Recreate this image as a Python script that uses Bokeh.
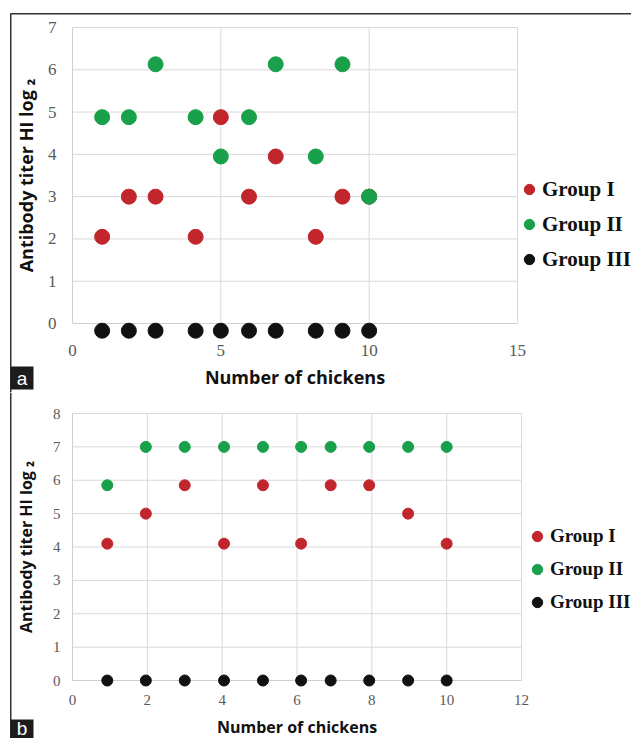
from bokeh.plotting import figure
from bokeh.models import Range1d, FixedTicker, Legend, LegendItem, Label, BoxAnnotation
from bokeh.layouts import column
from bokeh.embed import file_html
from bokeh.resources import INLINE

# ---- data: panel a (first sampling) ----
chickens_a = [1.0, 1.9, 2.8, 4.15, 5.0, 5.95, 6.85, 8.2, 9.1, 10.0]
group1_a = [2.05, 3.0, 3.0, 2.05, 4.88, 3.0, 3.95, 2.05, 3.0, 3.0]
group2_a = [4.88, 4.88, 6.13, 4.88, 3.95, 4.88, 6.13, 3.95, 6.13, 3.0]
group3_a = [-0.17, -0.17, -0.17, -0.17, -0.17, -0.17, -0.17, -0.17, -0.17, -0.17]
xticks_a = [0, 5, 10, 15]
yticks_a = [0, 1, 2, 3, 4, 5, 6, 7]

# ---- data: panel b (second sampling) ----
chickens_b = [0.93, 1.96, 3.0, 4.05, 5.09, 6.11, 6.9, 7.93, 8.97, 10.0]
group1_b = [4.1, 5.0, 5.85, 4.1, 5.85, 4.1, 5.85, 5.85, 5.0, 4.1]
group2_b = [5.85, 7.0, 7.0, 7.0, 7.0, 7.0, 7.0, 7.0, 7.0, 7.0]
group3_b = [0, 0, 0, 0, 0, 0, 0, 0, 0, 0]
xticks_b = [0, 2, 4, 6, 8, 10, 12]
yticks_b = [0, 1, 2, 3, 4, 5, 6, 7, 8]

group_names = ["Group I", "Group II", "Group III"]
colors = ["#c1262d", "#19a04b", "#111111"]

GRID = "#d9d9d9"
AXIS = "#cfcfcf"
FRAME = "#333333"
W = 631
LEFT = 72  # canvas x of the value-axis origin


def panel(height, frame_top, frame_right, unit_px, xs, series, xticks, yticks,
          dot, tick_size, title_size, x_standoff, x_title_standoff,
          y_standoff, y_title_standoff, legend_loc, glyph_h, legend_font):
    xmax, ymax = xticks[-1], yticks[-1]
    ux = (frame_right - LEFT) / xmax
    uy = unit_px
    # the plotting frame covers the whole canvas; axes sit at x=0 / y=0
    p = figure(width=W, height=height, output_backend="svg", toolbar_location=None,
               x_range=Range1d(-LEFT / ux, (W - LEFT) / ux),
               y_range=Range1d(ymax - (height - frame_top) / uy, ymax + frame_top / uy),
               min_border_left=0, min_border_right=0,
               min_border_top=0, min_border_bottom=0)
    p.outline_line_color = None
    p.background_fill_color = "white"
    p.border_fill_color = "white"
    p.xgrid.visible = False
    p.ygrid.visible = False

    # grid lines limited to the data area
    p.segment(x0=0, y0=yticks[1:], x1=xmax, y1=yticks[1:], line_color=GRID, line_width=1)
    p.segment(x0=xticks[1:], y0=0, x1=xticks[1:], y1=ymax, line_color=GRID, line_width=1)

    for ax, ticks in ((p.xaxis, xticks), (p.yaxis, yticks)):
        ax.ticker = FixedTicker(ticks=ticks)
        ax.fixed_location = 0
        ax.level = "underlay"
        ax.axis_line_color = AXIS
        ax.major_tick_line_color = None
        ax.minor_tick_line_color = None
        ax.major_tick_out = 0
        ax.major_tick_in = 0
        ax.major_label_text_font = "Liberation Serif"
        ax.major_label_text_color = "#595959"
        ax.major_label_text_font_size = f"{tick_size}px"
        ax.axis_label_text_font = "Open Sans"
        ax.axis_label_text_font_style = "bold"
        ax.axis_label_text_color = "#111111"
        ax.axis_label_text_font_size = f"{title_size}px"

    p.xaxis.bounds = (0, xmax)
    p.yaxis.bounds = (0, ymax)
    p.xaxis.major_label_standoff = x_standoff
    p.yaxis.major_label_standoff = y_standoff
    p.xaxis.axis_label_standoff = x_title_standoff
    p.yaxis.axis_label_standoff = y_title_standoff
    p.xaxis.axis_label = "Number of chickens"
    p.yaxis.axis_label = "Antibody titer HI log \u2082"

    items = []
    for name, ys, c in zip(group_names, series, colors):
        r = p.scatter(xs, ys, size=dot, fill_color=c, line_color=c)
        items.append(LegendItem(label=name, renderers=[r]))

    legend = Legend(items=items, location=legend_loc, orientation="vertical",
                    glyph_width=26, glyph_height=glyph_h, spacing=5, padding=0, margin=0,
                    label_standoff=-3, border_line_color=None, background_fill_alpha=0,
                    label_text_font="Liberation Serif", label_text_font_style="bold",
                    label_text_font_size=f"{legend_font}px", label_text_color="#111111")
    p.add_layout(legend)
    return p


pa = panel(392, 27, 517, 296 / 7, chickens_a, [group1_a, group2_a, group3_a],
           xticks_a, yticks_a, dot=15, tick_size=17, title_size=18,
           x_standoff=21, x_title_standoff=6, y_standoff=16, y_title_standoff=7,
           legend_loc=(516, 118), glyph_h=30, legend_font=21)

pb = panel(346, 21, 521, 267 / 8, chickens_b, [group1_b, group2_b, group3_b],
           xticks_b, yticks_b, dot=11, tick_size=15, title_size=16,
           x_standoff=14, x_title_standoff=8, y_standoff=12, y_title_standoff=13,
           legend_loc=(524, 122), glyph_h=28, legend_font=19)


def canvas_box(p, left, right, top, bottom, color):
    p.add_layout(BoxAnnotation(left=left, right=right, top=top, bottom=bottom,
                               left_units="canvas", right_units="canvas",
                               top_units="canvas", bottom_units="canvas",
                               fill_color=color, fill_alpha=1, line_color=None))


# figure frame lines and panel letters
canvas_box(pa, 9.5, 11, 13, 392, FRAME)
canvas_box(pa, 10, W, 12.5, 14, FRAME)
canvas_box(pb, 9.5, 11, 0, 346, FRAME)

for p, top, bottom, cy, letter in ((pa, 366, 389, 378, "a"), (pb, 327, 346, 335.5, "b")):
    canvas_box(p, 10, 33, top, bottom, "#1c1c1c")
    p.add_layout(Label(x=21.5, y=cy, x_units="canvas", y_units="canvas",
                       text=letter, text_color="white", text_font="Liberation Sans",
                       text_font_size="19px", text_align="center", text_baseline="middle"))

layout = column(pa, pb, spacing=0)
open("out.html", "w").write(file_html(layout, INLINE))
